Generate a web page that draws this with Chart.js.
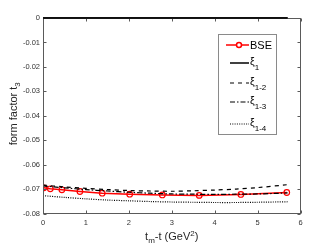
<!DOCTYPE html>
<html>
<head>
<meta charset="utf-8">
<script src="https://cdn.jsdelivr.net/npm/chart.js@4"></script>
<style>
  html, body { margin: 0; padding: 0; background: #fff; }
  canvas { display: block; }
</style>
</head>
<body>
<canvas id="myChart" width="332" height="249"></canvas>
<script>
// BSE points
const bseX = [0.02, 0.17, 0.44, 0.86, 1.38, 2.02, 2.78, 3.64, 4.61, 5.68];
const bseY = [-0.0695, -0.0699, -0.0703, -0.0710, -0.0717, -0.0721, -0.0724, -0.0726, -0.0722, -0.0714];

// curves xi_1 ... xi_1-4
const xiX = [0, 0.5, 1, 1.5, 2, 2.5, 3, 3.5, 4, 4.5, 5, 5.7];
const xi1 = [0, 0, 0, 0, 0, 0, 0, 0, 0, 0, 0, 0];
const xi12 = [-0.0684, -0.0691, -0.0697, -0.0702, -0.0706, -0.0708, -0.0709, -0.0707, -0.0704, -0.0700, -0.0694, -0.0682];
const xi13 = [-0.0687, -0.0695, -0.0702, -0.0708, -0.0713, -0.0717, -0.0720, -0.0721, -0.0722, -0.0721, -0.0720, -0.0716];
const xi14 = [-0.0727, -0.0734, -0.0740, -0.0745, -0.0748, -0.0751, -0.0753, -0.0754, -0.0755, -0.0755, -0.0754, -0.0752];

const xTicks = [0, 1, 2, 3, 4, 5, 6];
const yTicks = [0, -0.01, -0.02, -0.03, -0.04, -0.05, -0.06, -0.07, -0.08];

const pts = (xs, ys) => xs.map((x, i) => ({ x: x, y: ys[i] }));

const legendItems = [
  { sub: null, label: "BSE", color: "#ff0000", dash: [], width: 1.5, marker: true, y: 45 },
  { sub: "1", color: "#000", dash: [], width: 1.5, y: 63 },
  { sub: "1-2", color: "#000", dash: [4, 4], width: 1.2, y: 83 },
  { sub: "1-3", color: "#000", dash: [5, 2, 1.5, 2], width: 1.2, y: 102 },
  { sub: "1-4", color: "#000", dash: [1, 1.3], width: 1.2, y: 124 },
];

function richText(ctx, parts, x, y, align) {
  let total = 0;
  parts.forEach(p => {
    ctx.font = p.size + "px 'Liberation Sans', Arial, sans-serif";
    p.w = ctx.measureText(p.t).width;
    total += p.w;
  });
  let cx = align === "center" ? x - total / 2 : x;
  parts.forEach(p => {
    ctx.font = p.size + "px 'Liberation Sans', Arial, sans-serif";
    ctx.fillText(p.t, cx, y + (p.dy || 0));
    cx += p.w;
  });
}

const framePlugin = {
  id: "frame",
  afterDraw(chart) {
    const ctx = chart.ctx;
    const a = chart.chartArea;
    const xs = chart.scales.x, ys = chart.scales.y;
    ctx.save();
    ctx.strokeStyle = "#5a5a5a";
    ctx.lineWidth = 1;
    ctx.setLineDash([]);
    const L = Math.round(a.left) + 0.5, R = Math.round(a.right) - 0.5;
    const T = Math.round(a.top) + 0.5, B = Math.round(a.bottom) - 0.5;
    ctx.strokeRect(L, T, R - L, B - T);
    ctx.beginPath();
    xTicks.forEach(v => {
      const px = Math.round(xs.getPixelForValue(v)) + 0.5;
      ctx.moveTo(px, B); ctx.lineTo(px, B - 3);
      ctx.moveTo(px, T); ctx.lineTo(px, T + 3);
    });
    yTicks.forEach(v => {
      const py = Math.round(ys.getPixelForValue(v)) + 0.5;
      ctx.moveTo(L, py); ctx.lineTo(L + 3, py);
      ctx.moveTo(R, py); ctx.lineTo(R - 3, py);
    });
    ctx.stroke();

    // redraw xi_1 over the top border
    ctx.strokeStyle = "#000";
    ctx.lineWidth = 1.5;
    ctx.beginPath();
    ctx.moveTo(xs.getPixelForValue(xiX[0]), ys.getPixelForValue(xi1[0]));
    ctx.lineTo(xs.getPixelForValue(xiX[xiX.length - 1]), ys.getPixelForValue(xi1[xi1.length - 1]));
    ctx.stroke();

    // axis titles
    ctx.fillStyle = "#262626";
    ctx.textBaseline = "alphabetic";
    richText(ctx, [
      { t: "t", size: 11 },
      { t: "m", size: 8, dy: 3 },
      { t: "-t (GeV", size: 11 },
      { t: "2", size: 8, dy: -4.5 },
      { t: ")", size: 11 },
    ], (a.left + a.right) / 2, 240, "center");

    ctx.save();
    ctx.translate(17, (a.top + a.bottom) / 2 - 2);
    ctx.rotate(-Math.PI / 2);
    richText(ctx, [
      { t: "form factor t", size: 11 },
      { t: "3", size: 8, dy: 3 },
    ], 0, 0, "center");
    ctx.restore();

    // legend
    ctx.fillStyle = "#fff";
    ctx.strokeStyle = "#8a8a8a";
    ctx.lineWidth = 1;
    ctx.fillRect(218.5, 34.5, 58, 100);
    ctx.strokeRect(218.5, 34.5, 58, 100);
    legendItems.forEach(it => {
      ctx.strokeStyle = it.color;
      ctx.lineWidth = it.width;
      ctx.setLineDash(it.dash);
      const x0 = it.marker ? 226 : 230;
      ctx.beginPath();
      ctx.moveTo(x0, it.y);
      ctx.lineTo(249, it.y);
      ctx.stroke();
      ctx.setLineDash([]);
      if (it.marker) {
        ctx.beginPath();
        ctx.arc(239, it.y, 2.5, 0, Math.PI * 2);
        ctx.fillStyle = "#fff";
        ctx.fill();
        ctx.stroke();
      }
      ctx.fillStyle = "#000";
      ctx.textBaseline = "middle";
      if (it.sub === null) {
        richText(ctx, [{ t: it.label, size: 11 }], 250, it.y + 0.5, "left");
      } else {
        richText(ctx, [
          { t: "\u03BE", size: 10.5 },
          { t: it.sub, size: 8, dy: 6 },
        ], 250, it.y - 1, "left");
      }
    });
    ctx.restore();
  }
};

new Chart(document.getElementById("myChart"), {
  type: "scatter",
  data: {
    datasets: [
      {
        label: "BSE",
        data: pts(bseX, bseY),
        showLine: true,
        borderColor: "#ff0000",
        backgroundColor: "rgba(255,255,255,0)",
        borderWidth: 1.5,
        pointRadius: 2.8,
        pointBorderWidth: 1.2,
        pointBorderColor: "#ff0000",
        order: 5,
      },
      {
        label: "xi1",
        data: pts(xiX, xi1),
        showLine: true,
        borderColor: "#000",
        borderWidth: 1.5,
        pointRadius: 0,
        clip: false,
      },
      {
        label: "xi12",
        data: pts(xiX, xi12),
        showLine: true,
        borderColor: "#000",
        borderWidth: 1.2,
        borderDash: [4, 4],
        pointRadius: 0,
        tension: 0.3,
      },
      {
        label: "xi13",
        data: pts(xiX, xi13),
        showLine: true,
        borderColor: "#000",
        borderWidth: 1.2,
        borderDash: [5, 2, 1.5, 2],
        pointRadius: 0,
        tension: 0.3,
      },
      {
        label: "xi14",
        data: pts(xiX, xi14),
        showLine: true,
        borderColor: "#000",
        borderWidth: 1.2,
        borderDash: [1, 1.3],
        pointRadius: 0,
        tension: 0.3,
      },
    ],
  },
  options: {
    responsive: false,
    animation: false,
    devicePixelRatio: 1,
    layout: { padding: { top: 18, right: 31.5, left: 0, bottom: 0 } },
    plugins: {
      legend: { display: false },
      tooltip: { enabled: false },
    },
    scales: {
      x: {
        type: "linear",
        min: 0,
        max: 6,
        afterFit: s => { s.height = 35.5; },
        afterBuildTicks: s => { s.ticks = xTicks.map(v => ({ value: v })); },
        grid: { display: false, drawTicks: false },
        border: { display: false },
        ticks: {
          color: "#333",
          font: { family: "'Liberation Sans', Arial, sans-serif", size: 7.5 },
          padding: 5,
          maxRotation: 0,
        },
      },
      y: {
        type: "linear",
        min: -0.08,
        max: 0,
        afterFit: s => { s.width = 43; },
        afterBuildTicks: s => { s.ticks = yTicks.map(v => ({ value: v })); },
        grid: { display: false, drawTicks: false },
        border: { display: false },
        ticks: {
          color: "#333",
          font: { family: "'Liberation Sans', Arial, sans-serif", size: 7.5 },
          padding: 3,
          callback: v => (v === 0 ? "0" : v.toFixed(2)),
        },
      },
    },
  },
  plugins: [framePlugin],
});
</script>
</body>
</html>
